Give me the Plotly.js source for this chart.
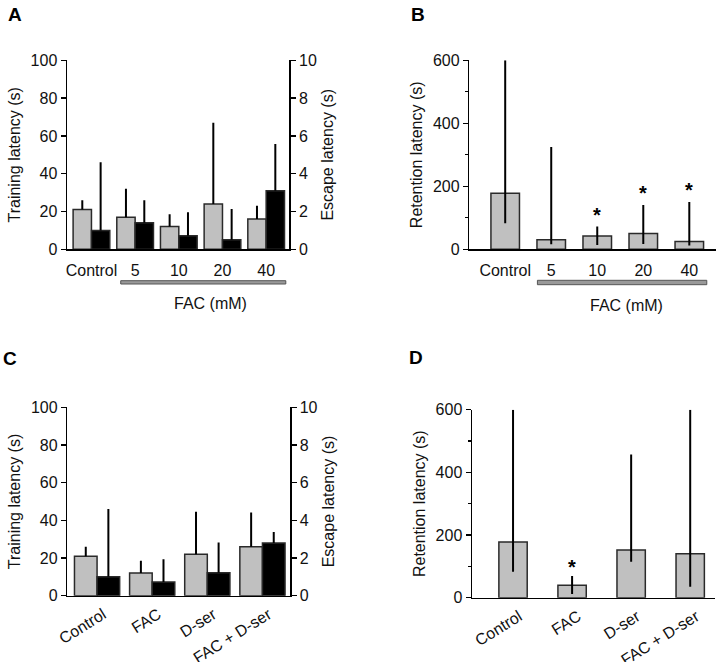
<!DOCTYPE html>
<html>
<head>
<meta charset="utf-8">
<script src="https://cdn.plot.ly/plotly-3.0.1.min.js"></script>
<style>html,body{margin:0;padding:0;background:#fff;}#chart{width:724px;height:662px;}</style>
</head>
<body>
<div id="chart"></div>
<script>
// ---- data ----
const facCats = ["Control", "5", "10", "20", "40"];
const trainA = [21, 17, 12, 24, 16];
const trainAUpper = [26, 32, 18.5, 67, 23];
const escapeA = [1.0, 1.4, 0.72, 0.51, 3.1];
const escapeAUpper = [4.6, 2.6, 1.96, 2.13, 5.57];

const retB = [178, 30, 42, 50, 25];
const retBUpper = [600, 325, 72, 141, 150];
const retBLower = [83, 16, 14, 17, 12];
const sigB = ["", "", "*", "*", "*"];

const treatCats = ["Control", "FAC", "D-ser", "FAC + D-ser"];
const trainC = [21, 12, 22, 26];
const trainCUpper = [26, 18.6, 44.6, 44.2];
const escapeC = [1.0, 0.73, 1.22, 2.8];
const escapeCUpper = [4.6, 1.93, 2.83, 3.38];

const retD = [178, 40, 152, 140];
const retDUpper = [600, 69, 457, 600];
const retDLower = [83, 12, 115, 35];
const sigD = ["", "*", "", ""];

// ---- helpers ----
const up = (v, u) => v.map((d, i) => u[i] - d);
const down = (v, l) => v.map((d, i) => d - l[i]);
const FONT = "Liberation Sans, Arial, sans-serif";
const GRAY = "#c0c0c0";
const EDGE = "#2a2a2a";
const errStyle = {color: "#000", thickness: 2, width: 0};

function barTrace(x, y, upper, lower, xa, ya, color, offset, width) {
  const e = Object.assign({type: "data", array: up(y, upper), visible: true, symmetric: false}, errStyle);
  e.arrayminus = lower ? down(y, lower) : y.map(() => 0);
  return {
    type: "bar", x: x, y: y, xaxis: xa, yaxis: ya,
    offset: offset, width: width,
    marker: {color: color, line: {color: EDGE, width: 1.5}},
    error_y: e, showlegend: false, hoverinfo: "skip"
  };
}

const traces = [
  barTrace(facCats, trainA, trainAUpper, null, "x", "y", GRAY, -0.42, 0.42),
  barTrace(facCats, escapeA, escapeAUpper, null, "x", "y2", "#000", 0, 0.42),
  barTrace(facCats, retB, retBUpper, retBLower, "x2", "y3", GRAY, -0.31, 0.62),
  barTrace(treatCats, trainC, trainCUpper, null, "x3", "y4", GRAY, -0.41, 0.41),
  barTrace(treatCats, escapeC, escapeCUpper, null, "x3", "y5", "#000", 0, 0.41),
  barTrace(treatCats, retD, retDUpper, retDLower, "x4", "y6", GRAY, -0.24, 0.48)
];

const px = v => v / 724;
const py = v => 1 - v / 662;

const tickF = {family: FONT, size: 16, color: "#111"};
const titleF = {family: FONT, size: 16, color: "#111"};

function xAx(cats, domain, range, anchor, angle) {
  const a = {
    type: "category", categoryarray: cats, domain: domain, range: range, anchor: anchor,
    showline: true, linecolor: "#000", linewidth: 1.5, ticks: "", showgrid: false,
    zeroline: false, tickfont: tickF, tickangle: angle, ticklabelstandoff: angle ? 2 : 6,
    ticklabeloverflow: "allow", fixedrange: true
  };
  if (angle) a.ticklabelshift = 6;
  return a;
}
function yAx(domain, range, dtick, title, anchor, side, overlay, minor) {
  const a = {
    domain: domain, range: range, dtick: dtick, anchor: anchor, side: side || "left",
    showline: true, linecolor: "#000", linewidth: 1.5, ticks: "outside", ticklen: 5,
    tickwidth: 1.5, tickcolor: "#000", showgrid: false, zeroline: false,
    tickfont: tickF, title: {text: title, font: titleF, standoff: 6}, fixedrange: true
  };
  if (overlay) a.overlaying = overlay;
  if (minor) a.minor = {dtick: minor, ticks: "outside", ticklen: 3, tickwidth: 1.2, tickcolor: "#000", showgrid: false};
  return a;
}

const domA_x = [px(67), px(289.3)], domA_y = [py(249.3), py(60.3)];
const domB_x = [px(469.3), px(716)];
const domC_x = [px(67.3), px(290)], domC_y = [py(595.7), py(407.3)];
const domD_x = [px(472), px(715)], domD_y = [py(597.7), py(409.7)];

const annotations = [];
function label(t, x, y) {
  annotations.push({text: "<b>" + t + "</b>", x: px(x), y: py(y), xref: "paper", yref: "paper",
    showarrow: false, xanchor: "center", yanchor: "middle", font: {family: FONT, size: 19, color: "#000"}});
}
label("A", 14.5, 14); label("B", 418, 14); label("C", 10, 358); label("D", 416, 357.5);
annotations.push({text: "FAC (mM)", x: px(210.7), y: py(304), xref: "paper", yref: "paper", showarrow: false,
  xanchor: "center", yanchor: "middle", font: titleF});
annotations.push({text: "FAC (mM)", x: px(626), y: py(305), xref: "paper", yref: "paper", showarrow: false,
  xanchor: "center", yanchor: "middle", font: titleF});

function stars(sig, upper, xa, ya, shift) {
  sig.forEach((s, i) => {
    if (!s) return;
    annotations.push({text: "<b>" + s + "</b>", x: i, y: upper[i], xref: xa, yref: ya, showarrow: false,
      xanchor: "center", yanchor: "middle", yshift: shift, font: {family: FONT, size: 20, color: "#000"}});
  });
}
stars(sigB, retBUpper, "x2", "y3", 12);
stars(sigD, retDUpper, "x4", "y6", 9);

const shapes = [
  {type: "rect", xref: "x", yref: "paper", x0: 0.67, x1: 4.45, y0: py(284), y1: py(280.7),
   fillcolor: "#999", line: {color: "#555", width: 1}},
  {type: "rect", xref: "x2", yref: "paper", x0: 0.70, x1: 4.38, y0: py(284.7), y1: py(280.3),
   fillcolor: "#999", line: {color: "#555", width: 1}}
];

const layout = {
  width: 724, height: 662, margin: {l: 0, r: 0, t: 0, b: 0},
  paper_bgcolor: "#fff", plot_bgcolor: "rgba(0,0,0,0)",
  showlegend: false, barmode: "overlay", font: {family: FONT, color: "#111"},
  xaxis: xAx(facCats, domA_x, [-0.56, 4.53], "y", 0),
  yaxis: yAx(domA_y, [0, 100], 20, "Training latency (s)", "x"),
  yaxis2: yAx(domA_y, [0, 10], 2, "Escape latency (s)", "x", "right", "y"),
  xaxis2: xAx(facCats, domB_x, [-0.78, 4.58], "y3", 0),
  yaxis3: yAx(domA_y, [0, 600], 200, "Retention latency (s)", "x2", "left", null, 100),
  xaxis3: xAx(treatCats, domC_x, [-0.54, 3.50], "y4", -32),
  yaxis4: yAx(domC_y, [0, 100], 20, "Training latency (s)", "x3"),
  yaxis5: yAx(domC_y, [0, 10], 2, "Escape latency (s)", "x3", "right", "y4"),
  xaxis4: xAx(treatCats, domD_x, [-0.695, 3.42], "y6", -32),
  yaxis6: yAx(domD_y, [0, 600], 200, "Retention latency (s)", "x4", "left", null, 100),
  annotations: annotations, shapes: shapes
};

Plotly.newPlot("chart", traces, layout, {staticPlot: true, displayModeBar: false});
</script>
</body>
</html>
